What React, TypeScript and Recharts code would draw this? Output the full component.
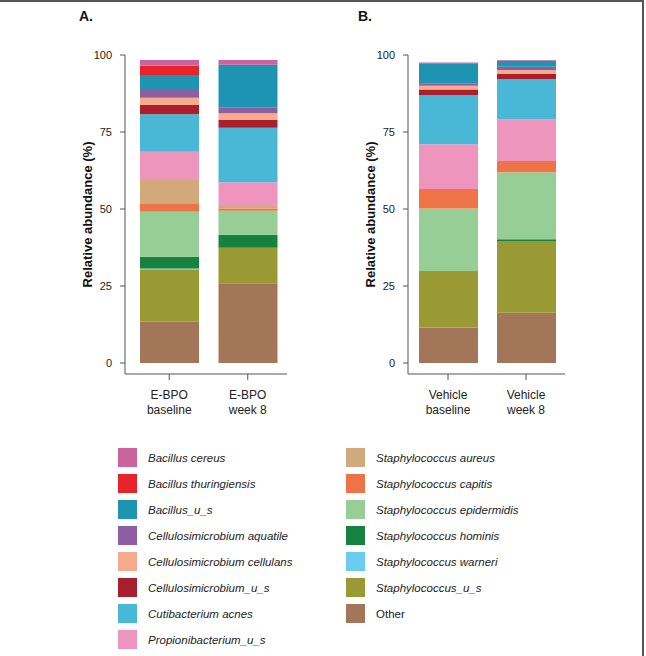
import { Bar, BarChart, XAxis, YAxis } from "recharts";

const categoriesA = ["E-BPO\nbaseline", "E-BPO\nweek 8"];
const categoriesB = ["Vehicle\nbaseline", "Vehicle\nweek 8"];
const yTicks = [0, 25, 50, 75, 100];

// legend order, top of the stack first
const speciesNames = [
  "Bacillus cereus",
  "Bacillus thuringiensis",
  "Bacillus_u_s",
  "Cellulosimicrobium aquatile",
  "Cellulosimicrobium cellulans",
  "Cellulosimicrobium_u_s",
  "Cutibacterium acnes",
  "Propionibacterium_u_s",
  "Staphylococcus aureus",
  "Staphylococcus capitis",
  "Staphylococcus epidermidis",
  "Staphylococcus hominis",
  "Staphylococcus warneri",
  "Staphylococcus_u_s",
  "Other",
];

const speciesColors = [
  "#c9649e", "#e8242b", "#1e94b3", "#8e5ea2", "#f5ab8c",
  "#a91f2e", "#48b8d6", "#ee95be", "#d2a97a", "#ee7447",
  "#97ce96", "#17813f", "#6bcbf0", "#9a9a35", "#a3765a",
];

// values per bar: E-BPO baseline, E-BPO week 8, Vehicle baseline, Vehicle week 8
const bacillusCereus = [1.9, 1.6, 0.3, 0.3];
const bacillusThuringiensis = [3.0, 0, 0, 0];
const bacillusUS = [4.9, 13.9, 6.5, 1.9];
const celluloAquatile = [2.5, 1.8, 0.8, 1.1];
const celluloCellulans = [2.3, 2.2, 1.2, 1.3];
const celluloUS = [3.0, 2.5, 1.8, 1.6];
const cutibacteriumAcnes = [12.2, 17.7, 16.0, 13.1];
const propioniUS = [9.2, 7.7, 14.5, 13.5];
const staphAureus = [7.8, 0.8, 0, 0];
const staphCapitis = [2.5, 0.8, 6.3, 3.7];
const staphEpidermidis = [14.6, 7.8, 20.3, 21.7];
const staphHominis = [3.8, 4.2, 0.2, 0.6];
const staphWarneri = [0.5, 0, 0, 0];
const staphUS = [16.8, 11.5, 18.2, 23.3];
const other = [13.4, 25.9, 11.5, 16.3];

const speciesValues = [
  bacillusCereus, bacillusThuringiensis, bacillusUS, celluloAquatile,
  celluloCellulans, celluloUS, cutibacteriumAcnes, propioniUS,
  staphAureus, staphCapitis, staphEpidermidis, staphHominis,
  staphWarneri, staphUS, other,
];

function buildRows(categories: string[], offset: number) {
  return categories.map((name, i) => {
    const row: Record<string, string | number> = { name };
    speciesValues.forEach((vals, k) => {
      row["s" + k] = vals[offset + i];
    });
    return row;
  });
}

const dataA = buildRows(categoriesA, 0);
const dataB = buildRows(categoriesB, 2);

const axisColor = "#555";
const font = "'Liberation Sans', Arial, sans-serif";

function CategoryTick({ x, y, payload }: any) {
  const lines = String(payload.value).split("\n");
  return (
    <text x={x} y={y} textAnchor="middle" fill="#222" fontSize={12} fontFamily={font}>
      {lines.map((line, i) => (
        <tspan key={i} x={x} dy={i === 0 ? 17 : 15}>
          {line}
        </tspan>
      ))}
    </text>
  );
}

function Panel({ data, left, padLeft, marginRight }: { data: any[]; left: number; padLeft: number; marginRight: number }) {
  const order = speciesNames.map((_, k) => k).reverse();
  return (
    <div style={{ position: "absolute", left, top: 0 }}>
      <BarChart
        width={300}
        height={430}
        data={data}
        margin={{ top: 55, right: marginRight, bottom: 16, left: 49 }}
      >
        <XAxis
          dataKey="name"
          height={40}
          padding={{ left: padLeft, right: 0 }}
          axisLine={{ stroke: axisColor }}
          tickLine={{ stroke: axisColor }}
          tickSize={6}
          tick={<CategoryTick />}
          interval={0}
        />
        <YAxis
          domain={[0, 100]}
          ticks={yTicks}
          width={76}
          padding={{ top: 0, bottom: 11 }}
          axisLine={{ stroke: axisColor }}
          tickLine={{ stroke: axisColor }}
          tickSize={5}
          tickMargin={8}
          tick={{ fill: "#222", fontSize: 11, fontFamily: font }}
          label={{
            value: "Relative abundance (%)",
            angle: -90,
            position: "center",
            fill: "#111",
            fontSize: 13,
            fontWeight: "bold",
            fontFamily: font,
          }}
        />
        {order.map((k) => (
          <Bar
            key={k}
            dataKey={"s" + k}
            stackId="a"
            fill={speciesColors[k]}
            barSize={59}
            isAnimationActive={false}
          />
        ))}
      </BarChart>
    </div>
  );
}

function LegendColumn({ from, to, left }: { from: number; to: number; left: number }) {
  return (
    <div style={{ position: "absolute", left, top: 448 }}>
      {speciesNames.slice(from, to).map((name, i) => (
        <div key={name} style={{ display: "flex", alignItems: "center", height: 26 }}>
          <div style={{ width: 19, height: 19, background: speciesColors[from + i], marginTop: -7 }} />
          <span
            style={{
              marginLeft: 11,
              marginTop: -7,
              fontSize: 11.5,
              fontStyle: name === "Other" ? "normal" : "italic",
              color: "#222",
              fontFamily: font,
            }}
          >
            {name}
          </span>
        </div>
      ))}
    </div>
  );
}

export default function App() {
  return (
    <div
      style={{
        position: "absolute",
        left: 0,
        top: 0,
        width: 646,
        height: 656,
        background: "#fff",
        fontFamily: font,
        overflow: "hidden",
      }}
    >
      <div
        style={{
          position: "absolute",
          left: 0,
          top: 0,
          width: 644,
          height: 656,
          borderTop: "2px solid #555",
          borderRight: "2px solid #555",
          boxSizing: "border-box",
        }}
      />
      <div style={{ position: "absolute", left: 79, top: 8, fontSize: 14, fontWeight: "bold", color: "#111" }}>A.</div>
      <div style={{ position: "absolute", left: 358, top: 8, fontSize: 14, fontWeight: "bold", color: "#111" }}>B.</div>
      <Panel data={dataA} left={0} padLeft={5} marginRight={13} />
      <Panel data={dataB} left={283} padLeft={1} marginRight={18} />
      <LegendColumn from={0} to={8} left={118} />
      <LegendColumn from={8} to={15} left={346} />
    </div>
  );
}
